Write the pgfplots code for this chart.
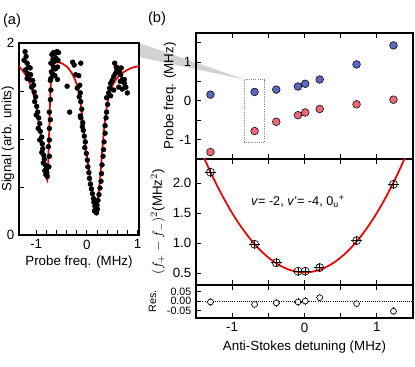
\documentclass[border=0pt]{standalone}
\usepackage{fontspec}
\setmainfont{Liberation Sans}
\usepackage{pgfplots}
\usepackage{pgfplotstable}
\pgfplotsset{compat=1.18}
\definecolor{dotblue}{RGB}{92,102,190}
\definecolor{dotred}{RGB}{232,104,122}
\definecolor{fitred}{RGB}{240,0,0}

\pgfplotsset{
  base/.style={
    scale only axis, anchor=north west,
    axis line style={line width=0.8pt},
    tick style={line width=0.6pt, black},
    major tick length=3.5pt, minor tick length=3.5pt,
    tick label style={font=\fontsize{10}{11}\selectfont},
    label style={font=\fontsize{10}{11}\selectfont},
    /pgf/number format/assume math mode=true,
    ytick pos=left,
  },
  panelb/.style={base, width=162.75pt, xmin=-1.5, xmax=1.5,
    xtick={-1,-0.5,0,0.5,1}, xtick pos=both},
}

% panel (a): measured spectrum
\pgfplotstableread{
x y
-1.22 1.91
-1.20 1.86
-1.24 1.82
-1.18 1.79
-1.15 1.75
-1.21 1.72
-1.12 1.74
-1.17 1.68
-1.11 1.67
-1.13 1.62
-1.07 1.61
-1.18 1.63
-1.05 1.56
-1.09 1.54
-1.04 1.49
-1.01 1.44
-1.03 1.39
-0.99 1.34
-0.97 1.28
-1.00 1.25
-0.95 1.22
-0.93 1.16
-0.96 1.11
-0.92 1.08
-0.89 1.02
-0.93 0.99
-0.88 0.95
-0.87 0.90
-0.89 0.86
-0.85 0.83
-0.84 0.79
-0.86 0.75
-0.82 0.73
-0.80 0.69
-0.83 0.67
-0.79 0.65
-0.78 0.61
-0.81 0.63
-0.75 0.71
-0.74 0.82
-0.76 0.92
-0.74 0.99
-0.74 1.11
-0.72 1.20
-0.74 1.28
-0.72 1.41
-0.71 1.51
-0.72 1.61
-0.70 1.70
-0.71 1.79
-0.69 1.88
-0.66 1.90
-0.63 1.89
-0.59 1.91
-0.56 1.90
-0.67 1.83
-0.64 1.81
-0.61 1.84
-0.57 1.82
-0.66 1.75
-0.62 1.73
-0.58 1.75
-0.68 1.68
-0.63 1.66
-0.58 1.62
-0.71 1.63
-0.39 1.55
-0.34 1.28
-0.28 1.80
-0.25 1.77
-0.12 1.79
-0.22 1.67
-0.19 1.53
-0.15 1.44
-0.12 1.22
-0.09 1.13
-0.16 1.66
-0.14 1.56
-0.13 1.48
-0.12 1.39
-0.10 1.31
-0.13 1.24
-0.08 1.17
-0.07 1.09
-0.05 1.03
-0.03 0.97
-0.04 0.91
-0.01 0.85
0.01 0.78
0.02 0.71
0.04 0.65
0.05 0.59
0.07 0.53
0.09 0.48
0.11 0.43
0.13 0.38
0.14 0.34
0.16 0.30
0.17 0.26
0.19 0.23
0.15 0.25
0.21 0.27
0.20 0.31
0.22 0.36
0.24 0.42
0.26 0.49
0.28 0.56
0.29 0.64
0.30 0.73
0.32 0.82
0.33 0.89
0.34 0.97
0.36 1.06
0.36 1.14
0.38 1.22
0.39 1.28
0.41 1.36
0.39 1.43
0.43 1.48
0.45 1.53
0.47 1.58
0.50 1.61
0.53 1.65
0.56 1.68
0.59 1.71
0.55 1.79
0.58 1.75
0.61 1.74
0.64 1.70
0.67 1.67
0.70 1.62
0.74 1.58
0.77 1.54
0.80 1.48
0.66 1.60
0.63 1.54
0.53 1.51
0.47 1.45
0.70 1.52
0.74 1.62
0.68 1.74
}\spectrum

\pgfplotstableread{
x y
-1.34 1.76
-1.25 1.70
-1.18 1.64
-1.11 1.56
-1.05 1.45
-1.00 1.34
-0.95 1.17
-0.90 1.01
-0.85 0.84
-0.81 0.68
-0.78 0.57
-0.76 0.80
-0.74 1.15
-0.72 1.50
-0.69 1.70
-0.65 1.78
-0.59 1.80
-0.50 1.79
-0.39 1.75
-0.30 1.69
-0.22 1.60
-0.15 1.47
-0.10 1.28
-0.04 0.98
0.03 0.72
0.09 0.50
0.14 0.36
0.18 0.30
0.22 0.38
0.26 0.57
0.30 0.85
0.34 1.10
0.39 1.32
0.45 1.48
0.55 1.60
0.68 1.68
0.88 1.74
1.04 1.76
}\specfit

% panel (b): peak positions, squared splitting, residuals
\pgfplotstableread{
x blue red sq res
-1.30 0.16 -1.32 2.18 -0.005
-0.69 0.23 -0.78 0.98 -0.018
-0.39 0.29 -0.54 0.67 -0.010
-0.09 0.37 -0.37 0.53 -0.005
0.01 0.44 -0.30 0.53 0.000
0.21 0.55 -0.21 0.59 0.018
0.72 0.94 -0.09 1.04 -0.014
1.23 1.43 0.03 1.98 -0.054
}\peaks

\begin{document}
\begin{tikzpicture}
\path[use as bounding box] (0,0) rectangle (311.25pt,-275.25pt);

% zoom wedge from panel (a) to the boxed pair, behind everything
\fill[gray!35] (104.25pt,-32.25pt) -- (104.25pt,-42.75pt) -- (183.35pt,-59.64pt) -- cycle;

\node[font=\fontsize{11}{12}\selectfont] at (9pt,-15.75pt) {(a)};
\node[font=\fontsize{11}{12}\selectfont] at (117.75pt,-14.25pt) {(b)};

\begin{axis}[base, name=pa, at={(14.25pt,-32.25pt)},
  width=90pt, height=144pt,
  xmin=-1.34, xmax=1.03, ymin=0, ymax=2,
  xtick={-1,0,1}, minor x tick num=4, xtick pos=bottom,
  ytick={0,0.5,1,1.5,2}, yticklabels={0,,,,2},
  xlabel={Probe freq. (MHz)},
  xlabel style={at={(axis description cs:0.5,-0.14)}, anchor=center},
  ylabel={Signal (arb. units)},
  ylabel style={at={(axis description cs:-0.092,0.5)}, anchor=center},
]
\addplot[only marks, mark=*, mark size=1.8pt, black] table[x=x, y=y] {\spectrum};
\addplot[fitred, line width=1.3pt, smooth, tension=0.4] table[x=x, y=y] {\specfit};
\end{axis}

\begin{axis}[panelb, name=pb1, at={(147pt,-24.75pt)}, height=94.5pt,
  ymin=-1.5, ymax=1.75, xticklabels={},
  ytick={-1,-0.5,0,0.5,1,1.5}, yticklabels={-1,,0,,1,},
  ylabel={Probe freq. (MHz)},
  ylabel style={at={(axis description cs:-0.12,0.5)}, anchor=center},
]
\addplot[only marks, mark=*, mark size=2.9pt, mark options={fill=dotblue, draw=black, line width=0.4pt}]
  table[x=x, y=blue] {\peaks};
\addplot[only marks, mark=*, mark size=2.9pt, mark options={fill=dotred, draw=black, line width=0.4pt}]
  table[x=x, y=red] {\peaks};
\draw[densely dotted, gray, line width=0.6pt] (axis cs:-0.83,0.55) rectangle (axis cs:-0.55,-1.06);
\end{axis}

\begin{axis}[panelb, name=pb2, at={(147pt,-119.25pt)}, height=94.5pt,
  ymin=0.3, ymax=2.4, xticklabels={},
  ytick={0.5,1,1.5,2},
  yticklabel style={/pgf/number format/fixed, /pgf/number format/fixed zerofill, /pgf/number format/precision=1},
  ylabel={$(f_{+}-f_{-})^2$(MHz$^2$)},
  ylabel style={at={(axis description cs:-0.175,0.5)}, anchor=center},
]
\addplot[fitred, line width=1.3pt, smooth] coordinates {
(-1.40,2.450) (-1.30,2.183) (-1.20,1.936) (-1.10,1.708) (-1.00,1.500)
(-0.90,1.312) (-0.80,1.144) (-0.70,0.995) (-0.60,0.866) (-0.50,0.758)
(-0.40,0.668) (-0.30,0.599) (-0.20,0.550) (-0.10,0.520) (0.00,0.510)
(0.10,0.520) (0.20,0.550) (0.30,0.599) (0.40,0.668) (0.50,0.758)
(0.60,0.866) (0.70,0.995) (0.80,1.144) (0.90,1.312) (1.00,1.500)
(1.10,1.708) (1.20,1.936) (1.30,2.183) (1.40,2.450)};
\addplot[only marks, mark=o, mark size=3pt, black, mark options={line width=0.5pt},
  error bars/.cd, x dir=both, x fixed=0.074, y dir=both, y fixed=0.075,
  error mark=none, error bar style={line width=0.6pt, black}]
  table[x=x, y=sq] {\peaks};
\node[font=\fontsize{9.5}{10}\selectfont] at (axis cs:-0.09,1.69)
  {\textit{v}= -2, \textit{v}'= -4, 0\textsubscript{u}\textsuperscript{+}};
\end{axis}

\begin{axis}[panelb, name=pb3, at={(147pt,-213.75pt)}, height=24.75pt,
  ymin=-0.09, ymax=0.085, xticklabels={-1,,0,,1},
  ytick={-0.05,0,0.05}, scaled y ticks=false,
  yticklabel style={font=\fontsize{8}{9}\selectfont,
    /pgf/number format/fixed, /pgf/number format/fixed zerofill, /pgf/number format/precision=2},
  xlabel={Anti-Stokes detuning (MHz)},
  xlabel style={at={(axis description cs:0.5,-0.88)}, anchor=center},
  ylabel={Res.},
  ylabel style={font=\fontsize{8}{9}\selectfont, at={(axis description cs:-0.20,0.5)}, anchor=center},
]
\addplot[black, densely dotted, line width=0.6pt] coordinates {(-1.5,0) (1.5,0)};
\addplot[only marks, mark=*, mark size=2.2pt, black, mark options={fill=white, line width=0.5pt},
  error bars/.cd, x dir=both, x fixed=0.05, y dir=both, y fixed=0.02,
  error mark=none, error bar style={line width=0.6pt, black}]
  table[x=x, y=res] {\peaks};
\end{axis}
\end{tikzpicture}
\end{document}
